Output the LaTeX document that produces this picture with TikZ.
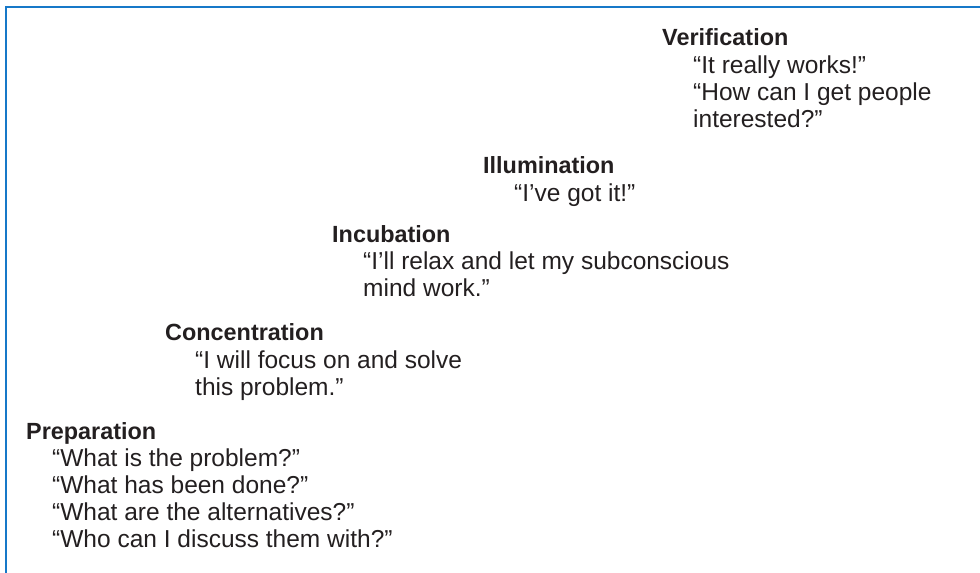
\documentclass[tikz,border=0pt]{standalone}
\usepackage{fontspec}
\setmainfont{Liberation Sans}
\usetikzlibrary{positioning}

\definecolor{frameblue}{RGB}{22,120,200}
\definecolor{inkgray}{RGB}{35,31,32}

\tikzset{
    stage/.style={font=\fontsize{23.4}{27}\selectfont\bfseries, text=inkgray, anchor=base west, inner sep=0pt},
    says/.style={font=\fontsize{24.5}{27}\selectfont, text=inkgray, anchor=base west, inner sep=0pt},
}

\begin{document}
\begin{tikzpicture}[x=1pt,y=-1pt]
    \useasboundingbox (0,0) rectangle (980,573);

    % open frame, top and left only
    \draw[frameblue, line width=1.6pt] (6,573) -- (6,7) -- (980,7);

    % stages, stepping up to the right
    \node[stage] (verif) at (662,45) {Verification};
    \node[says] (verif1) at (693,73) {“It really works!”};
    \node[says] (verif2) at (693,100) {“How can I get people};
    \node[says] (verif3) at (693,127) {interested?”};

    \node[stage] (illum) at (483,173) {Illumination};
    \node[says] (illum1) at (514,201) {“I’ve got it!”};

    \node[stage] (incub) at (332,242) {Incubation};
    \node[says] (incub1) at (363,269) {“I’ll relax and let my subconscious};
    \node[says] (incub2) at (363,296) {mind work.”};

    \node[stage] (conc) at (165,340) {Concentration};
    \node[says] (conc1) at (195,368) {“I will focus on and solve};
    \node[says] (conc2) at (195,395) {this problem.”};

    \node[stage] (prep) at (26,439) {Preparation};
    \foreach \txt [count=\i] in {{“What is the problem?”},{“What has been done?”},
        {“What are the alternatives?”},{“Who can I discuss them with?”}}{
        \node[says] (prep\i) at (52,439+27*\i) {\txt};
    }
\end{tikzpicture}
\end{document}
